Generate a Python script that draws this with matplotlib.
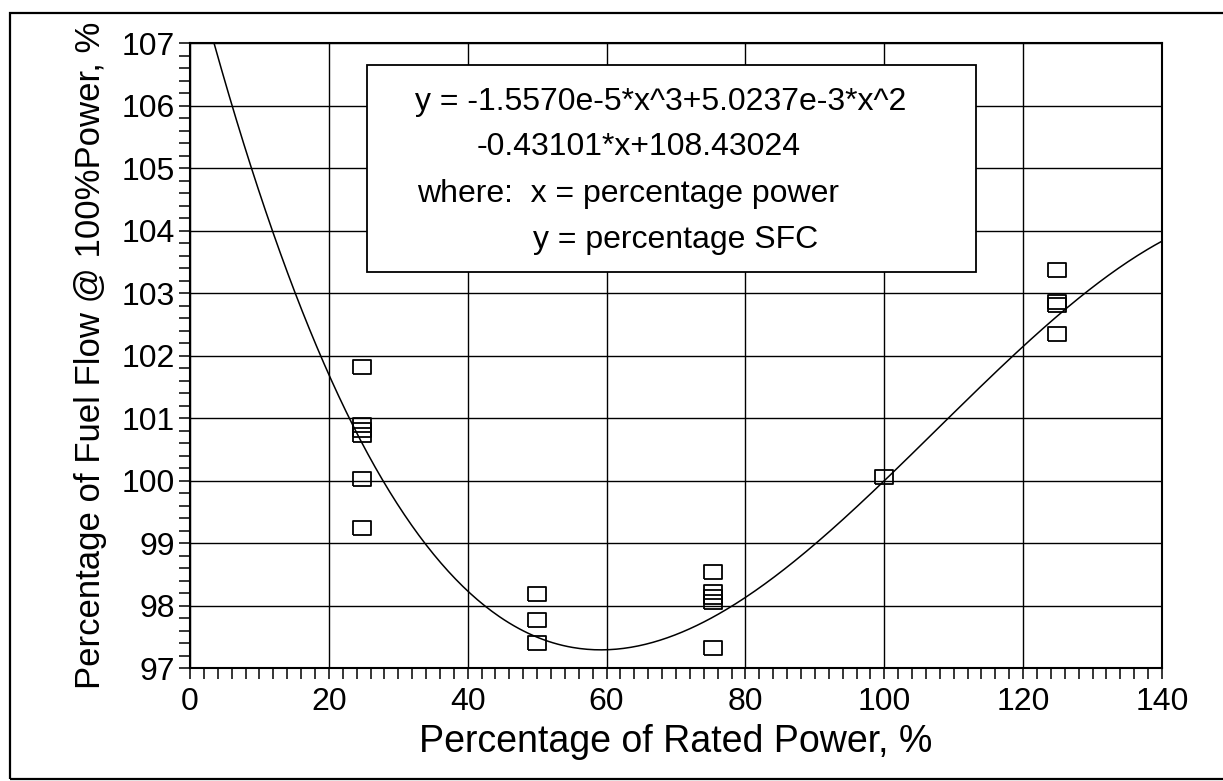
import numpy as np
import matplotlib
matplotlib.use('Agg')
import matplotlib.pyplot as plt
from matplotlib.patches import Rectangle
from matplotlib.ticker import MultipleLocator

plt.rcParams['font.family'] = ['Liberation Sans', 'DejaVu Sans']

# measured points (percent rated power, percent fuel flow)
power = [24.8, 24.8, 24.8, 24.8, 24.8, 24.8,
         50.0, 50.0, 50.0,
         75.3, 75.3, 75.3, 75.3, 75.3,
         100.0,
         124.9, 124.9, 124.9, 124.9]
fuel = [101.81, 100.89, 100.81, 100.73, 100.03, 99.24,
        98.19, 97.77, 97.40,
        98.54, 98.22, 98.14, 98.06, 97.32,
        100.05,
        103.37, 102.86, 102.81, 102.35]

# cubic fit coefficients as printed on the chart
fit_coef = [-1.5570e-5, 5.0237e-3, -0.43101, 108.43024]

eq_lines = ['y = -1.5570e-5*x^3+5.0237e-3*x^2',
            '-0.43101*x+108.43024',
            'where:  x = percentage power',
            'y = percentage SFC']

W, H = 1223, 781
fig = plt.figure(figsize=(W / 100, H / 100), dpi=100)

# outer frame of the scanned page
fig.patches.append(Rectangle((10 / W, 2 / H), 1.2, (779 - 13) / H,
                             transform=fig.transFigure, fill=False,
                             ec='black', lw=1.6))

ax = fig.add_axes([190 / W, 1 - 668 / H, 972 / W, 625 / H])

# slightly wide open square, as in the scan
box_marker = [(-1.25, -1), (1.25, -1), (1.25, 1), (-1.25, 1), (-1.25, -1)]

xs = np.linspace(0, 140, 400)
ax.plot(xs, np.polyval(fit_coef, xs), color='black', lw=1.1)
ax.plot(power, fuel, ls='none', marker=box_marker, ms=12.5, mfc='none',
        mec='black', mew=1.3)

ax.set_xlim(0, 140)
ax.set_ylim(97, 107)
ax.xaxis.set_major_locator(MultipleLocator(20))
ax.xaxis.set_minor_locator(MultipleLocator(2))
ax.yaxis.set_major_locator(MultipleLocator(1))
ax.yaxis.set_minor_locator(MultipleLocator(0.2))
ax.grid(True, which='major', color='black', lw=1.0)
ax.tick_params(which='both', direction='out', length=8, width=1.1,
               top=False, right=False, colors='black')
ax.tick_params(axis='both', which='major', labelsize=23)
ax.tick_params(axis='x', pad=6)
ax.tick_params(axis='y', pad=3)
for s in ax.spines.values():
    s.set_linewidth(1.5)

ax.set_xlabel('Percentage of Rated Power, %', fontsize=27, labelpad=5)
ax.set_ylabel('Percentage of Fuel Flow @ 100%Power, %', fontsize=25,
              labelpad=10)

# equation box
fig.patches.append(Rectangle((367 / W, 1 - 272 / H), 609 / W, 207 / H,
                             transform=fig.transFigure, fc='white',
                             ec='black', lw=1.3, zorder=5))
pos = [(415, 110), (477, 155), (417, 202), (533, 248)]
for (px, py), line in zip(pos, eq_lines):
    fig.text(px / W, 1 - py / H, line, fontsize=23, ha='left',
             va='baseline', zorder=6)

fig.savefig('out.png', dpi=100)
